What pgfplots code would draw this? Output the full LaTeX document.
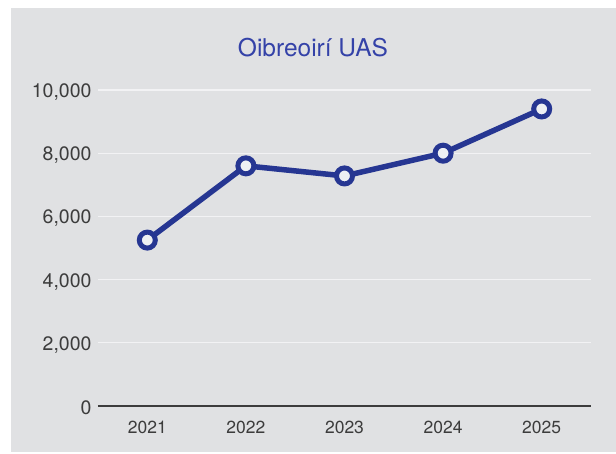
\documentclass[border=0pt]{standalone}
\usepackage{pgfplots}
\pgfplotsset{compat=1.18}
\usepackage{fontspec}
\setmainfont{TeX Gyre Heros}
\definecolor{panel}{RGB}{224,225,227}
\definecolor{linecol}{RGB}{38,54,146}
\definecolor{titlecol}{RGB}{52,66,168}
\definecolor{txt}{RGB}{60,60,60}
\definecolor{gridc}{RGB}{242,242,244}
\definecolor{markfill}{RGB}{238,240,243}
\begin{document}
\begin{tikzpicture}[x=1pt,y=1pt]
\fill[white] (0,0) rectangle (616,454);
\fill[panel] (11,2) rectangle (616,446);
\node[text=titlecol, font=\fontsize{24.5}{28}\selectfont] at (313,406) {Oibreoirí UAS};
\begin{axis}[
  at={(98pt,48pt)}, anchor=south west,
  scale only axis, width=493pt, height=316pt,
  xmin=-0.5, xmax=4.5, ymin=0, ymax=10000,
  axis y line*=left,
  y axis line style={draw=none},
  axis x line*=bottom,
  x axis line style={draw=none},
  xtick={0,1,2,3,4},
  xticklabels={2021,2022,2023,2024,2025},
  major tick length=0pt,
  ytick={0,2000,4000,6000,8000,10000},
  scaled y ticks=false,
  yticklabel={\pgfmathprintnumber[fixed,precision=0,1000 sep={,}]{\tick}},
  ymajorgrids=true,
  grid style={gridc, line width=1.3pt},
  tick label style={text=txt, font=\fontsize{17.5}{20}\selectfont},
  yticklabel style={font=\fontsize{19.5}{22}\selectfont, xshift=-3pt, yshift=-2pt},
  xticklabel style={yshift=-12pt},
  /pgf/number format/assume math mode=true,
  clip=false,
]
\addplot[draw=txt, line width=1.5pt, forget plot] coordinates {(-0.5,0) (4.5,0)};
\addplot[linecol, line width=5.5pt, mark=*, mark size=8pt,
  mark options={fill=markfill, draw=linecol, line width=5pt}]
  coordinates {(0,5250) (1,7600) (2,7280) (3,8000) (4,9400)};
\end{axis}
\pgfresetboundingbox
\path (0,0) rectangle (616,454);
\end{tikzpicture}
\end{document}
